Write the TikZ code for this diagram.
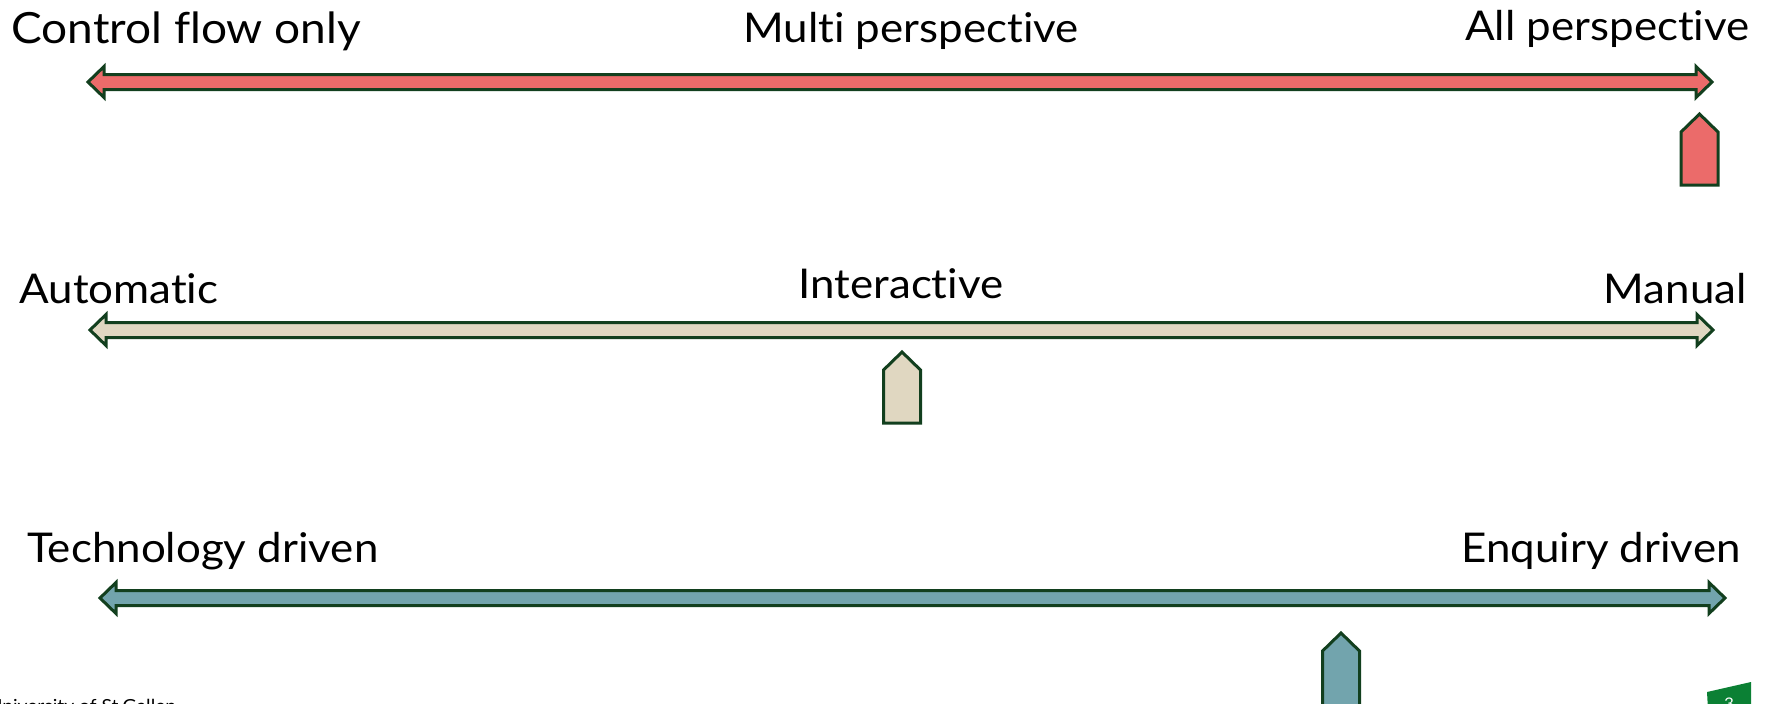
\documentclass[tikz,border=0pt]{standalone}
\usepackage{fontspec}
\setmainfont{Lato}[FakeStretch=1.07, RawFeature={-liga}]
\definecolor{edgegreen}{HTML}{123F1E}
\definecolor{barred}{HTML}{EB6B6A}
\definecolor{barbeige}{HTML}{E0D7C1}
\definecolor{barteal}{HTML}{72A4AD}
\definecolor{badgegreen}{HTML}{0B8034}
\tikzset{
  barline/.style={draw=edgegreen, line width=1.5pt, line join=miter},
  label/.style={font=\fontsize{20.5}{23}\selectfont, inner sep=0pt, anchor=base west},
  rlabel/.style={label, anchor=base east},
  clabel/.style={label, anchor=base},
}
% double-headed block arrow: y, left tip x, right tip x, fill colour
\newcommand\scalebar[4]{%
  \draw[barline, fill=#4]
    (#2,#1) -- ({#2+16},{#1-15.5}) -- ({#2+16},{#1-7.5})
    -- ({#3-16},{#1-7.5}) -- ({#3-16},{#1-15.5}) -- (#3,#1)
    -- ({#3-16},{#1+15.5}) -- ({#3-16},{#1+7.5})
    -- ({#2+16},{#1+7.5}) -- ({#2+16},{#1+15.5}) -- cycle;}
% upward pointing position marker: centre x, top y, bottom y, fill colour
\newcommand\slider[4]{%
  \draw[barline, fill=#4]
    (#1,#2) -- ({#1+18.5},{#2+18}) -- ({#1+18.5},#3)
    -- ({#1-18.5},#3) -- ({#1-18.5},{#2+18}) -- cycle;}
\begin{document}
\begin{tikzpicture}[x=0.5pt, y=-0.5pt]
  \useasboundingbox (0,0) rectangle (1771,703);
  \clip (0,0) rectangle (1771,703);

  % perspective scale
  \node[label, font=\fontsize{21.5}{24}\selectfont] (cf) at (11,43) {Control flow only};
  \node[clabel] (mp) at (911,42) {Multi perspective};
  \node[rlabel] (ap) at (1750,40) {All perspective};
  \scalebar{82}{88}{1712}{barred}
  \slider{1699.5}{114}{185}{barred}

  % interaction scale
  \node[label] (au) at (19,303) {Automatic};
  \node[clabel] (ia) at (901,298) {Interactive};
  \node[rlabel] (ma) at (1747,303) {Manual};
  \scalebar{330}{90}{1713}{barbeige}
  \slider{902}{352}{423}{barbeige}

  % motivation scale
  \node[label] (td) at (27,562) {Technology driven};
  \node[rlabel] (ed) at (1741,562) {Enquiry driven};
  \scalebar{598}{100}{1725}{barteal}
  \slider{1341}{633}{730}{barteal}

  % footer
  \node[font=\fontsize{9}{10}\selectfont, inner sep=0pt, anchor=base west] (ft) at (-12,712) {University of St.Gallen};
  \fill[badgegreen] (1707,692) -- (1751,682) -- (1751,710) -- (1708,710) -- cycle;
  \node[font=\fontsize{8}{9}\selectfont, text=white, inner sep=0pt, anchor=base] (pg) at (1729,709) {3};
\end{tikzpicture}
\end{document}
